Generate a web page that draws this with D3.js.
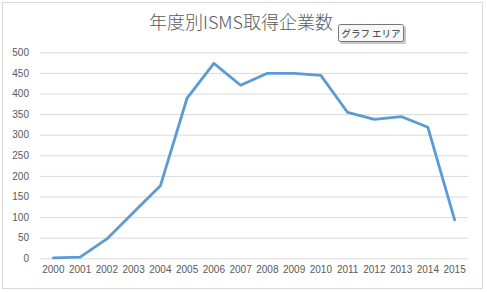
<!DOCTYPE html>
<html>
<head>
<meta charset="utf-8">
<script src="https://cdn.jsdelivr.net/npm/d3@7"></script>
<style>
    body { margin: 0; background: #fff; }
    svg { display: block; }
    .tick text { font-family: "Liberation Sans", Arial, sans-serif; font-size: 10px; fill: #595959; }
</style>
</head>
<body>
<div id="chart"></div>
<script>
// chart values
var years = ['2000','2001','2002','2003','2004','2005','2006','2007','2008','2009','2010','2011','2012','2013','2014','2015'];
var companies = [1, 3, 47, 112, 176, 389, 473, 420, 449, 449, 444, 354, 337, 344, 318, 93];
var yTicks = [0, 50, 100, 150, 200, 250, 300, 350, 400, 450, 500];
var title = '年度別ISMS取得企業数';
var tipText = 'グラフ エリア';

var width = 487, height = 292;
var plot = { left: 40, right: 468, top: 52.3, bottom: 258.3 };

var svg = d3.select('#chart').append('svg')
    .attr('width', width)
    .attr('height', height);

// outer chart border
svg.append('rect')
    .attr('x', 2.5).attr('y', 2.5)
    .attr('width', 480).attr('height', 286)
    .attr('fill', '#fff')
    .attr('stroke', '#d9d9d9');

var x = d3.scaleBand()
    .domain(years)
    .range([plot.left, plot.right]);

var y = d3.scaleLinear()
    .domain([0, 500])
    .range([plot.bottom, plot.top]);

// gridlines + y labels
var yAxis = svg.append('g')
    .attr('transform', `translate(${plot.left},0)`)
    .call(d3.axisLeft(y).tickValues(yTicks).tickSize(-(plot.right - plot.left)).tickPadding(11));
yAxis.select('.domain').remove();
yAxis.selectAll('.tick line').attr('stroke', '#d9d9d9');

// x labels
var xAxis = svg.append('g')
    .attr('transform', `translate(0,${plot.bottom})`)
    .call(d3.axisBottom(x).tickSize(0).tickPadding(8));
xAxis.select('.domain').remove();

// the data line
var line = d3.line()
    .x(function(d, i){ return x(years[i]) + x.bandwidth() / 2; })
    .y(function(d){ return y(d); });

svg.append('path')
    .datum(companies)
    .attr('d', line)
    .attr('fill', 'none')
    .attr('stroke', '#5b9bd5')
    .attr('stroke-width', 2.8)
    .attr('stroke-linejoin', 'round')
    .attr('stroke-linecap', 'round');

// title
svg.append('text')
    .attr('x', 241)
    .attr('y', 29)
    .attr('text-anchor', 'middle')
    .style('font-family', '"Noto Sans CJK JP", sans-serif')
    .style('font-size', '18px')
    .style('font-weight', 300)
    .style('fill', '#595959')
    .text(title);

// hover tooltip box left in the screenshot
var tip = svg.append('g').attr('transform', 'translate(338,24)');
tip.append('rect')
    .attr('x', 2).attr('y', 2)
    .attr('width', 66).attr('height', 18)
    .attr('rx', 2)
    .attr('fill', '#a0a0a0')
    .attr('opacity', 0.6);
tip.append('rect')
    .attr('x', 0.5).attr('y', 0.5)
    .attr('width', 65).attr('height', 17)
    .attr('rx', 2)
    .attr('fill', '#f7f7f7')
    .attr('stroke', '#767676');
tip.append('text')
    .attr('x', 33).attr('y', 13)
    .attr('text-anchor', 'middle')
    .style('font-family', '"Noto Sans CJK JP", sans-serif')
    .style('font-size', '9.5px')
    .style('fill', '#333')
    .text(tipText);
</script>
</body>
</html>
